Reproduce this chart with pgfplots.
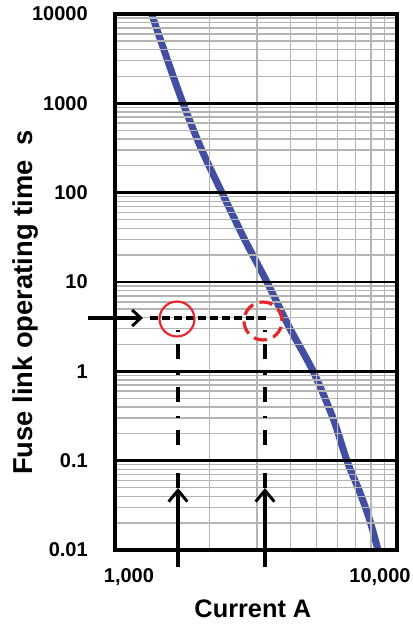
\documentclass[border=0pt]{standalone}
\usepackage{pgfplots}
\pgfplotsset{compat=1.18}
\usepackage{fontspec}
\setmainfont{Liberation Sans}
\usetikzlibrary{arrows.meta}
\definecolor{curveblue}{RGB}{66,78,162}
\definecolor{markred}{RGB}{232,38,42}
\definecolor{gridgray}{RGB}{180,180,180}

\begin{document}
\begin{tikzpicture}
\begin{axis}[
    scale only axis,
    width=211.5pt, height=402pt,
    xmode=log, ymode=log,
    xmin=887, xmax=10000,
    ymin=0.01, ymax=10000,
    xtick={1000,10000},
    xticklabels={1{,}000,10{,}000\hspace*{25.5pt}},
    minor xtick={2000,3000,4000,5000,6000,7000,8000,9000},
    ytick={0.01,0.1,1,10,100,1000,10000},
    yticklabels={0.01,0.1,1,10,100,1000,10000},
    minor ytick={0.02,0.03,0.04,0.05,0.06,0.07,0.08,0.09,
                 0.2,0.3,0.4,0.5,0.6,0.7,0.8,0.9,
                 2,3,4,5,6,7,8,9,
                 20,30,40,50,60,70,80,90,
                 200,300,400,500,600,700,800,900,
                 2000,3000,4000,5000,6000,7000,8000,9000},
    major tick length=0pt, minor tick length=0pt,
    xmajorgrids=false, xminorgrids=true,
    ymajorgrids=true, yminorgrids=true,
    major grid style={black, line width=1.9pt},
    minor grid style={gridgray, line width=1.05pt},
    axis on top,
    axis line style={line width=2.6pt},
    tick label style={font=\fontsize{15}{15}\selectfont\bfseries},
    yticklabel style={anchor=east, inner sep=0pt, xshift=-20.25pt},
    xticklabel style={anchor=north, inner sep=0pt, yshift=-13.5pt},
    xlabel={Current A},
    ylabel={Fuse link operating time\ \ s},
    every axis x label/.style={at={(axis description cs:0.489,-0.125)}, anchor=base,
        font=\fontsize{19}{19}\selectfont\bfseries},
    every axis y label/.style={at={(axis description cs:-0.2943,0.4618)}, rotate=90, anchor=base,
        font=\fontsize{20.5}{20.5}\selectfont\bfseries},
]
% fuse time-current characteristic
\addplot[curveblue, line width=5.25pt, smooth, tension=0.5, line cap=round] coordinates {
    (1215,10000) (1395,3000) (1591,1000) (1870,300) (2223,100)
    (2700,30) (3272,10) (3990,3) (4865,1) (5770,0.3)
    (6505,0.1) (7250,0.045) (7900,0.022) (8495,0.01)
};
\end{axis}

% annotations (pt, axis box lower left at origin)
\draw[line width=2.4pt, -{Straight Barb[length=6.5pt,width=12pt,line width=2.2pt]}]
    (-20.25pt,174pt) -- (21pt,174pt);
\draw[line width=2.4pt, dash pattern=on 6pt off 3pt] (26.25pt,174pt) -- (114.75pt,174pt);
\foreach \xx in {47.25pt,112.5pt} {
  \draw[line width=2.4pt, dash pattern=on 1.5pt off 9pt on 11.25pt off 10.5pt]
      (\xx,165pt) -- (\xx,46.5pt);
  \draw[line width=2.4pt, -{Straight Barb[length=8.5pt,width=14pt,line width=2.2pt]}]
      (\xx,-12.75pt) -- (\xx,46.5pt);
}
\draw[markred, line width=1.6pt] (46.5pt,173.25pt) circle (13.1pt);
\draw[markred, line width=2.4pt, dash pattern=on 10pt off 5pt] (111pt,171.75pt) circle (14.25pt);

\pgfresetboundingbox
\path (-86.25pt,-55.5pt) rectangle (222.75pt,412.5pt);
\end{tikzpicture}
\end{document}
